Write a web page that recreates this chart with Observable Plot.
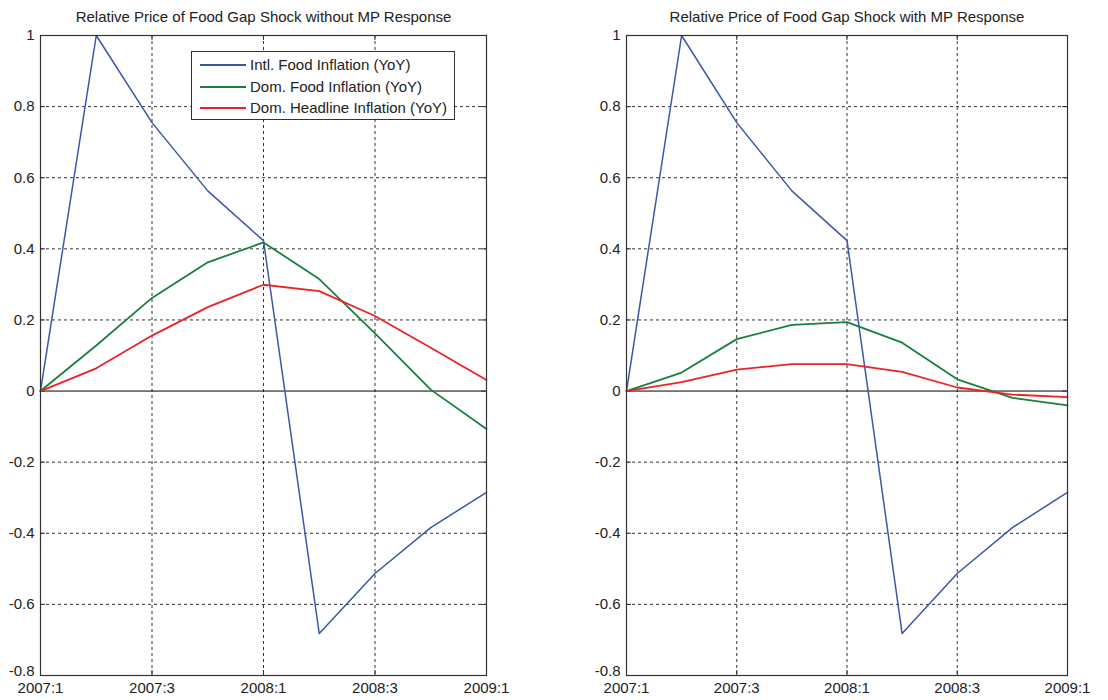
<!DOCTYPE html>
<html>
<head>
<meta charset="utf-8">
<script src="https://cdn.jsdelivr.net/npm/d3@7"></script>
<script src="https://cdn.jsdelivr.net/npm/@observablehq/plot@0.6"></script>
<style>
  html, body { margin: 0; padding: 0; background: #fff; }
  #wrap { position: relative; width: 1108px; height: 700px; font-family: "Liberation Sans", Arial, sans-serif; }
  #left, #right { position: absolute; top: 0; }
  #left { left: 0; }
  #right { left: 554px; }
  #legend { position: absolute; left: 191px; top: 51px; width: 264px; height: 69px; border: 1px solid #333; background: #fff; box-sizing: border-box; }
  .lg { position: absolute; left: 0; height: 20px; font-size: 15px; line-height: 20px; color: #222; white-space: nowrap; }
  .lg span.sw { position: absolute; left: 8px; top: 9px; width: 46px; height: 0; border-top: 2px solid; }
  .lg span.tx { position: absolute; left: 58px; top: 0px; }
</style>
</head>
<body>
<div id="wrap">
  <div id="left"></div>
  <div id="right"></div>
  <div id="legend"></div>
</div>
<script>
// ---- data ----
const quarterIndex = [0, 1, 2, 3, 4, 5, 6, 7, 8];
const quarters = ["2007:1", "2007:2", "2007:3", "2007:4", "2008:1", "2008:2", "2008:3", "2008:4", "2009:1"];
const xTicks = [0, 2, 4, 6, 8];
const yTicks = [-0.8, -0.6, -0.4, -0.2, 0, 0.2, 0.4, 0.6, 0.8, 1];

const intlFood     = [0, 1.0, 0.755, 0.563, 0.423, -0.682, -0.513, -0.384, -0.285];
const domFoodNoMP  = [0, 0.128, 0.262, 0.362, 0.418, 0.315, 0.162, 0.004, -0.107];
const headNoMP     = [0, 0.064, 0.156, 0.236, 0.299, 0.281, 0.211, 0.122, 0.031];
const domFoodMP    = [0, 0.052, 0.146, 0.186, 0.194, 0.136, 0.033, -0.019, -0.040];
const headMP       = [0, 0.025, 0.060, 0.076, 0.076, 0.054, 0.010, -0.010, -0.017];

const seriesNames = ["Intl. Food Inflation (YoY)", "Dom. Food Inflation (YoY)", "Dom. Headline Inflation (YoY)"];
const seriesColors = ["#3b56ab", "#17803f", "#ee2128"];

const titles = ["Relative Price of Food Gap Shock without MP Response", "Relative Price of Food Gap Shock with MP Response"];

function toRows(values, name) {
  return quarterIndex.map((i) => ({ q: i, v: values[i], s: name }));
}

const W = 554, H = 700, MT = 35, MB = 25, FS = 15;
const fmtY = (d) => String(+d.toFixed(1));

function panel(title, seriesList, ml, mr) {
  const pw = W - ml - mr, ph = H - MT - MB;
  const grid = { stroke: "#333", strokeWidth: 1, strokeDasharray: "3,3" };
  const marks = [
    Plot.ruleX(xTicks.slice(1, -1), grid),
    Plot.ruleY(yTicks.filter((d) => d !== 0), grid),
    Plot.ruleY([0], { stroke: "#000", strokeWidth: 1 }),
    Plot.tickY(yTicks, { y: (d) => d, insetRight: pw - 5, stroke: "#333" }),
    Plot.tickY(yTicks, { y: (d) => d, insetLeft: pw - 5, stroke: "#333" }),
    Plot.tickX(xTicks, { x: (d) => d, insetTop: ph - 5, stroke: "#333" }),
    Plot.tickX(xTicks, { x: (d) => d, insetBottom: ph - 5, stroke: "#333" })
  ];
  seriesList.forEach((vals, k) => {
    marks.push(Plot.line(toRows(vals, seriesNames[k]), {
      x: "q", y: "v", stroke: seriesColors[k], strokeWidth: k === 0 ? 1.5 : 1.8
    }));
  });
  marks.push(Plot.frame({ stroke: "#333", strokeWidth: 1.2 }));
  marks.push(Plot.axisX(xTicks, { tickSize: 0, tickPadding: 7, tickFormat: (d) => quarters[d], fontSize: FS, fill: "#222", label: null }));
  marks.push(Plot.axisY(yTicks.slice(1), { tickSize: 0, tickPadding: 6, tickFormat: fmtY, fontSize: FS, fill: "#222", label: null }));
  marks.push(Plot.axisY(yTicks.slice(0, 1), { tickSize: 0, tickPadding: 6, tickFormat: fmtY, fontSize: FS, fill: "#222", label: null, dy: -4 }));
  marks.push(Plot.text([title], { frameAnchor: "top", dy: -18, lineAnchor: "middle", fontSize: FS, fill: "#222" }));
  return Plot.plot({
    width: W, height: H,
    marginLeft: ml, marginRight: mr, marginTop: MT, marginBottom: MB,
    x: { domain: [0, 8], label: null },
    y: { domain: [-0.8, 1], label: null },
    style: { fontFamily: "'Liberation Sans', Arial, sans-serif", fontSize: FS + "px", background: "#fff", overflow: "visible" },
    marks
  });
}

document.getElementById("left").appendChild(panel(titles[0], [intlFood, domFoodNoMP, headNoMP], 40, 68));
document.getElementById("right").appendChild(panel(titles[1], [intlFood, domFoodMP, headMP], 72, 41));

const lg = document.getElementById("legend");
seriesNames.forEach((name, k) => {
  const row = document.createElement("div");
  row.className = "lg";
  row.style.top = (3 + k * 21.5) + "px";
  row.innerHTML = `<span class="sw" style="border-color:${seriesColors[k]}"></span><span class="tx">${name}</span>`;
  lg.appendChild(row);
});
</script>
</body>
</html>
